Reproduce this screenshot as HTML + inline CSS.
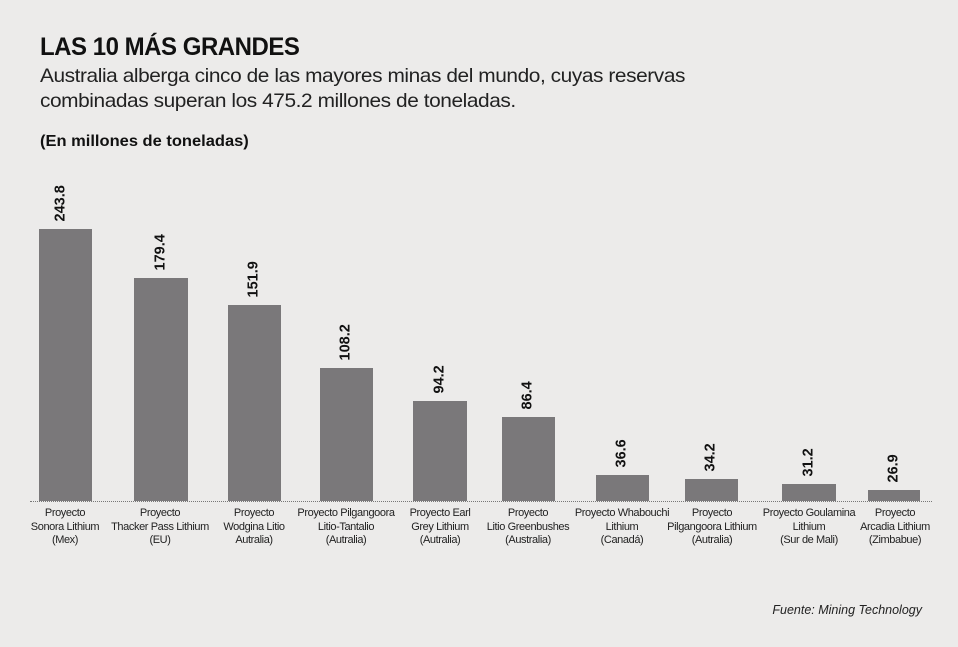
<!DOCTYPE html>
<html><head><meta charset="utf-8"><style>
body{margin:0;width:958px;height:647px;background:#ecebea;font-family:"Liberation Sans",sans-serif;color:#111;position:relative;overflow:hidden}
.t{position:absolute;left:40px;top:33px;font-size:25px;font-weight:bold;letter-spacing:-0.5px;transform:scaleX(0.96);transform-origin:left}
.s{position:absolute;left:40px;top:64px;font-size:19.5px;line-height:25px;color:#222;letter-spacing:-0.4px;transform:scaleX(1.07);transform-origin:left}
.u{position:absolute;left:40px;top:133px;font-size:16px;font-weight:bold;transform:scaleX(1.03);transform-origin:left}
.b{position:absolute;background:#7a787a}
.v{position:absolute;font-size:14.5px;font-weight:bold;transform:rotate(-90deg);transform-origin:center;width:50px;line-height:15px;text-align:left;white-space:nowrap}
.c{position:absolute;top:507px;width:130px;margin-left:-65px;text-align:center;font-size:11px;line-height:13.5px;letter-spacing:-0.4px;color:#222}
.base{position:absolute;left:30px;top:501px;width:902px;border-top:1px dotted #777}
.f{position:absolute;right:36px;top:603px;font-size:12.5px;font-style:italic;color:#222}
</style></head><body>
<div class="t">LAS 10 MÁS GRANDES</div>
<div class="s">Australia alberga cinco de las mayores minas del mundo, cuyas reservas<br>combinadas superan los 475.2 millones de toneladas.</div>
<div class="u">(En millones de toneladas)</div>

<div class="b" style="left:39px;width:53px;top:229px;height:272px"></div>
<div class="b" style="left:134px;width:54px;top:278px;height:223px"></div>
<div class="b" style="left:228px;width:53px;top:305px;height:196px"></div>
<div class="b" style="left:320px;width:53px;top:368px;height:133px"></div>
<div class="b" style="left:413px;width:54px;top:401px;height:100px"></div>
<div class="b" style="left:502px;width:53px;top:417px;height:84px"></div>
<div class="b" style="left:596px;width:53px;top:475px;height:26px"></div>
<div class="b" style="left:685px;width:53px;top:479px;height:22px"></div>
<div class="b" style="left:782px;width:54px;top:484px;height:17px"></div>
<div class="b" style="left:868px;width:52px;top:490px;height:11px"></div>
<div class="base"></div>

<div class="v" style="left:36px;top:189px">243.8</div>
<div class="v" style="left:136px;top:238px">179.4</div>
<div class="v" style="left:229px;top:265px">151.9</div>
<div class="v" style="left:321px;top:328px">108.2</div>
<div class="v" style="left:415px;top:361px">94.2</div>
<div class="v" style="left:503px;top:377px">86.4</div>
<div class="v" style="left:597px;top:435px">36.6</div>
<div class="v" style="left:686px;top:439px">34.2</div>
<div class="v" style="left:784px;top:444px">31.2</div>
<div class="v" style="left:869px;top:450px">26.9</div>

<div class="c" style="left:65px">Proyecto<br>Sonora Lithium<br>(Mex)</div>
<div class="c" style="left:160px">Proyecto<br>Thacker Pass Lithium<br>(EU)</div>
<div class="c" style="left:254px">Proyecto<br>Wodgina Litio<br>Autralia)</div>
<div class="c" style="left:346px">Proyecto Pilgangoora<br>Litio-Tantalio<br>(Autralia)</div>
<div class="c" style="left:440px">Proyecto Earl<br>Grey Lithium<br>(Autralia)</div>
<div class="c" style="left:528px">Proyecto<br>Litio Greenbushes<br>(Australia)</div>
<div class="c" style="left:622px">Proyecto Whabouchi<br>Lithium<br>(Canadá)</div>
<div class="c" style="left:712px">Proyecto<br>Pilgangoora Lithium<br>(Autralia)</div>
<div class="c" style="left:809px">Proyecto Goulamina<br>Lithium<br>(Sur de Mali)</div>
<div class="c" style="left:895px">Proyecto<br>Arcadia Lithium<br>(Zimbabue)</div>

<div class="f">Fuente: Mining Technology</div>
</body></html>
